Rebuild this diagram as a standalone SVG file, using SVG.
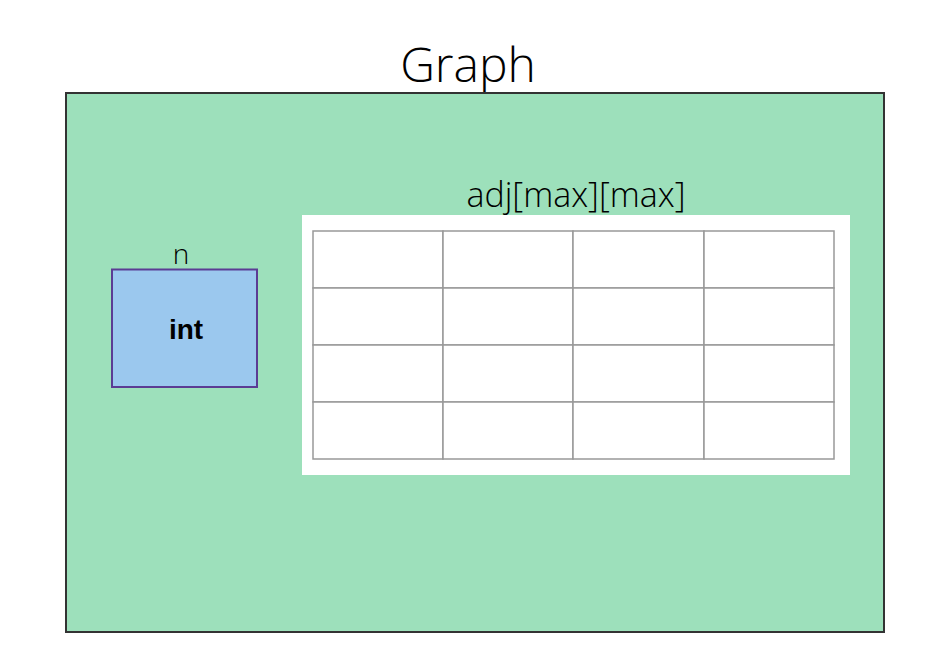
<svg xmlns="http://www.w3.org/2000/svg" width="942" height="670" viewBox="0 0 942 670">
<style>
.hand{font-family:"Open Sans","Liberation Sans",sans-serif;font-weight:300;fill:#000;text-anchor:middle}
.cell{fill:#fff;stroke:#999;stroke-width:1.5}
</style>
<rect width="942" height="670" fill="#fff"/>
<g id="graph">
<text class="hand" x="468" y="82" font-size="48">Graph</text>
<rect x="66" y="93" width="818" height="539" fill="#9de0bb" stroke="#333" stroke-width="2"/>
</g>
<g id="n">
<text class="hand" x="181" y="264" font-size="28">n</text>
<rect x="112" y="269.5" width="145" height="117.5" fill="#9bc8ee" stroke="#5b3c94" stroke-width="2"/>
<text x="186" y="339" font-family="Liberation Sans,Arial,sans-serif" font-weight="bold" font-size="28" text-anchor="middle">int</text>
</g>
<g id="adj">
<text class="hand" x="576" y="207" font-size="34">adj[max][max]</text>
<rect x="302" y="215" width="548" height="260" fill="#fff"/>
<g>
<rect class="cell" x="313" y="231" width="130" height="57"/>
<rect class="cell" x="443" y="231" width="130" height="57"/>
<rect class="cell" x="573" y="231" width="131" height="57"/>
<rect class="cell" x="704" y="231" width="130" height="57"/>
<rect class="cell" x="313" y="288" width="130" height="57"/>
<rect class="cell" x="443" y="288" width="130" height="57"/>
<rect class="cell" x="573" y="288" width="131" height="57"/>
<rect class="cell" x="704" y="288" width="130" height="57"/>
<rect class="cell" x="313" y="345" width="130" height="57"/>
<rect class="cell" x="443" y="345" width="130" height="57"/>
<rect class="cell" x="573" y="345" width="131" height="57"/>
<rect class="cell" x="704" y="345" width="130" height="57"/>
<rect class="cell" x="313" y="402" width="130" height="57"/>
<rect class="cell" x="443" y="402" width="130" height="57"/>
<rect class="cell" x="573" y="402" width="131" height="57"/>
<rect class="cell" x="704" y="402" width="130" height="57"/>
</g>
</g>
<g id="connectors"/>
</svg>
